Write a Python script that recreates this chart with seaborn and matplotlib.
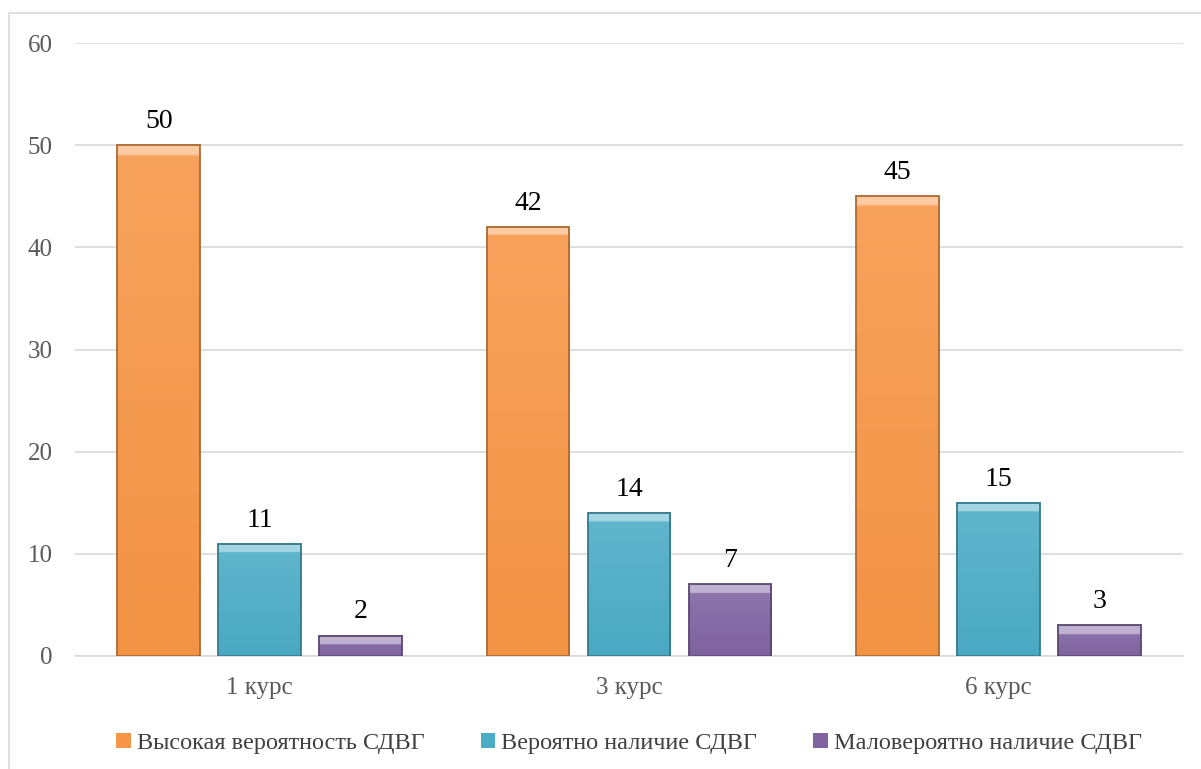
import numpy as np
import pandas as pd
import matplotlib
matplotlib.use("Agg")
import matplotlib.pyplot as plt
import matplotlib.colors as mcolors
from matplotlib.patches import Rectangle
import seaborn as sns

courses = ["1 курс", "3 курс", "6 курс"]
series = ["Высокая вероятность СДВГ", "Вероятно наличие СДВГ", "Маловероятно наличие СДВГ"]
high = [50, 42, 45]
probable = [11, 14, 15]
unlikely = [2, 7, 3]
colors = ["#F79646", "#4BACC6", "#8064A2"]

df = pd.DataFrame({
    "course": courses * 3,
    "group": [series[0]] * 3 + [series[1]] * 3 + [series[2]] * 3,
    "value": high + probable + unlikely,
})

sns.set_theme(style="white")
plt.rcParams["font.family"] = ["Liberation Serif", "DejaVu Serif"]

fig = plt.figure(figsize=(12.01, 7.69), dpi=100)
ax = fig.add_axes([75 / 1201, 1 - 656 / 769, (1183 - 75) / 1201, (656 - 43) / 769])

sns.barplot(data=df, x="course", y="value", hue="group", hue_order=series,
            palette=colors, width=0.82, gap=0.18, ax=ax, legend=True,
            saturation=1, edgecolor="none", linewidth=0)

ax.set_ylim(0, 60)
ax.set_yticks(range(0, 61, 10))
ax.yaxis.grid(True, color="#D9D9D9", linewidth=1.2)
ax.set_axisbelow(True)
for s in ["top", "right", "left"]:
    ax.spines[s].set_visible(False)
ax.spines["bottom"].set_color("#D9D9D9")
ax.spines["bottom"].set_linewidth(1.2)
ax.set_xlabel("")
ax.set_ylabel("")
ax.tick_params(axis="both", length=0, labelsize=18, colors="#595959")
ax.tick_params(axis="y", pad=16)
ax.tick_params(axis="x", pad=15)

# gradient fill with a light bevel along the top of each bar
px_per_unit = ax.bbox.height / 60
for container, base in zip(ax.containers, colors):
    rgb = np.array(mcolors.to_rgb(base))
    light = rgb + (1 - rgb) * 0.12
    bottom = rgb * 0.98
    dark = rgb * 0.7
    hilite = rgb + (1 - rgb) * 0.5
    for bar in container:
        x0, w, h = bar.get_x(), bar.get_width(), bar.get_height()
        bar.set_facecolor("none")
        n = 200
        t = np.linspace(0, 1, n)[:, None]
        img = light * (1 - t) + bottom * t
        img = img[:, None, :].repeat(2, axis=1)
        bevel = int(round(n * min(0.5, 9 / (h * px_per_unit))))
        img[:bevel] = hilite
        ax.imshow(img, extent=[x0, x0 + w, 0, h], origin="upper",
                  aspect="auto", zorder=2, interpolation="bilinear")
        ax.add_patch(Rectangle((x0, 0), w, h, facecolor="none",
                               edgecolor=dark, linewidth=1.3, zorder=3))
    ax.bar_label(container, labels=[str(int(b.get_height())) for b in container],
                 padding=8, fontsize=20, color="black")

ax.set_xlim(-0.5, 2.5)

handles, labels = ax.get_legend_handles_labels()
ax.legend(handles, labels, loc="upper center", bbox_to_anchor=(0.5, -0.09),
          ncol=3, frameon=False, fontsize=17.5, labelcolor="#404040",
          handlelength=0.6, handleheight=0.6, handletextpad=0.25,
          columnspacing=2.3)

fig.add_artist(Rectangle((9 / 1201, -0.1), 1.2, 1 - 13 / 769 + 0.1,
                         transform=fig.transFigure, facecolor="none",
                         edgecolor="#D9D9D9", linewidth=1.2))

fig.savefig("out.png", dpi=100)
